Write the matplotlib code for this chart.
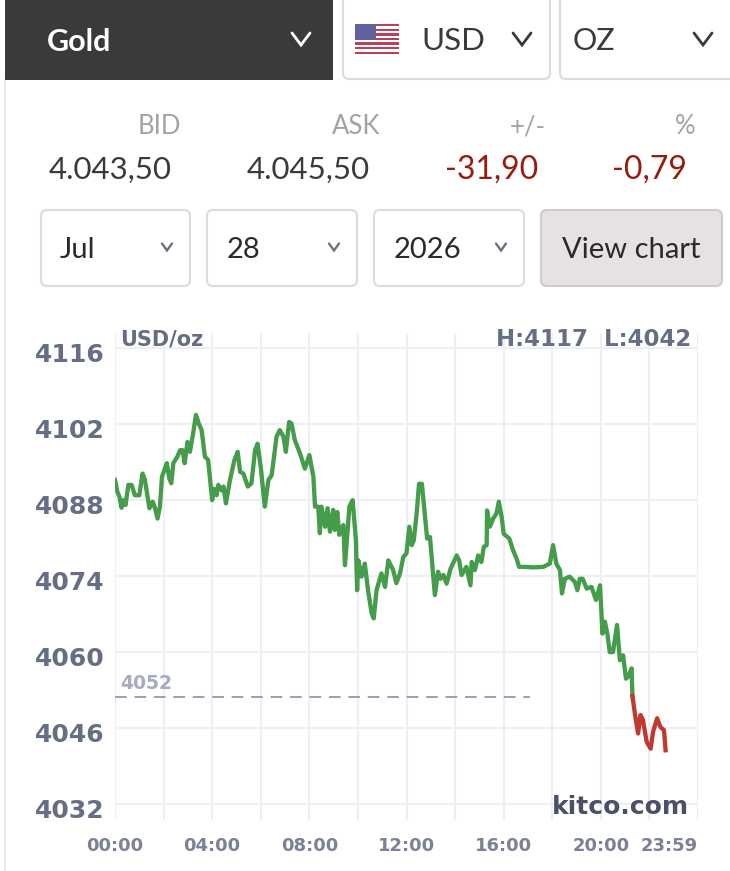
import numpy as np
import matplotlib
matplotlib.use("Agg")
import matplotlib.pyplot as plt
from matplotlib.patches import FancyBboxPatch, Rectangle
from matplotlib.transforms import ScaledTranslation

# ---- data ----
minutes = [0,6,11,16,21,26,33,41,49,60,68,74,85,93,99,105,111,116,128,134,139,144,154,161,167,172,179,185,193,200,207,214,222,230,240,244,251,255,263,268,274,284,295,303,309,317,328,337,346,352,360,370,379,387,399,407,416,422,430,436,444,457,469,480,490,494,502,506,510,519,525,531,539,543,549,554,564,568,579,587,595,598,601,609,617,625,634,639,646,658,667,675,687,695,704,712,720,727,733,738,745,751,758,765,771,778,786,790,798,804,811,819,829,844,850,856,868,878,881,889,897,905,911,918,919,926,934,942,948,955,960,974,983,992,998,1012,1033,1058,1074,1082,1090,1099,1104,1111,1123,1136,1142,1148,1155,1165,1177,1188,1198,1204,1210,1216,1222,1230,1240,1247,1255,1262,1267,1276,1278,1284,1292,1298,1304,1313,1323,1329,1339,1347,1356,1360]
prices = [4091.7,4089.5,4088.6,4086.6,4088.0,4087.1,4090.8,4090.8,4088.9,4088.9,4092.9,4091.7,4086.5,4087.7,4086.5,4084.6,4086.8,4092.3,4094.8,4092.0,4091.1,4094.8,4096.0,4097.2,4097.2,4094.8,4098.7,4096.9,4100.3,4103.7,4102.1,4100.9,4096.0,4095.4,4088.0,4090.1,4088.9,4090.8,4089.8,4090.5,4087.4,4091.7,4095.4,4096.9,4093.2,4092.9,4090.5,4091.1,4097.2,4098.4,4094.1,4086.8,4091.7,4092.6,4099.7,4100.9,4099.7,4096.9,4102.4,4102.1,4099.1,4096.6,4093.8,4096.3,4092.3,4086.8,4086.8,4081.9,4086.8,4083.1,4086.5,4082.2,4086.2,4082.5,4085.8,4081.6,4083.4,4076.0,4086.8,4088.0,4080.6,4071.4,4076.9,4073.9,4076.3,4071.4,4067.1,4066.2,4071.4,4074.5,4072.0,4076.9,4075.1,4072.7,4074.5,4077.5,4078.2,4083.1,4079.7,4080.6,4085.5,4091.0,4091.0,4085.5,4080.9,4081.2,4073.9,4070.5,4074.8,4073.5,4074.2,4072.6,4075.4,4077.8,4076.9,4074.2,4075.7,4072.3,4076.6,4075.1,4077.8,4076.6,4079.4,4079.7,4086.1,4083.1,4084.6,4085.5,4087.7,4084.9,4081.8,4080.9,4078.8,4077.2,4075.7,4075.7,4075.6,4075.7,4076.3,4079.7,4076.3,4075.1,4070.8,4073.5,4073.9,4072.9,4071.4,4073.5,4073.5,4071.7,4072.0,4069.6,4072.3,4063.4,4065.6,4063.4,4060.0,4060.0,4065.0,4058.5,4059.4,4055.1,4055.4,4057.0,4051.9,4048.7,4045.0,4048.4,4047.5,4043.5,4042.2,4045.3,4047.8,4046.2,4045.6,4041.9]
open_price = 4052
y_ticks = [4116,4102,4088,4074,4060,4046,4032]
x_tick_min = [0,240,480,720,960,1200,1439]
x_tick_lab = ["00:00","04:00","08:00","12:00","16:00","20:00","23:59"]
header_labels = ["BID","ASK","+/-","%"]
header_values = ["4.043,50","4.045,50","-31,90","-0,79"]

W, H = 730, 871
fig = plt.figure(figsize=(W/100, H/100), dpi=100, facecolor="white")
ui = fig.add_axes([0,0,1,1])
ui.set_xlim(0,W); ui.set_ylim(H,0); ui.axis("off")

UI = "Lato"
def box(x0,y0,x1,y1,fc="white",ec="#dcdcdc",r=6,lw=1.5):
    ui.add_patch(FancyBboxPatch((x0+r,y0+r),x1-x0-2*r,y1-y0-2*r,
        boxstyle=f"round,pad={r},rounding_size={r}",fc=fc,ec=ec,lw=lw,zorder=2))
def chev(cx,cy,w,h,c,lw):
    ui.plot([cx-w,cx,cx+w],[cy-h,cy+h,cy-h],color=c,lw=lw,zorder=4,solid_capstyle="round",solid_joinstyle="miter")

ui.plot([4.5,4.5],[80,871],color="#e4e4e4",lw=1.2)
ui.add_patch(Rectangle((5,-2),328,82,fc="#3a3a3a",ec="none",zorder=2))
box(343,-10,550,79); box(560,-10,740,79)
ui.text(47,42,"Gold",color="white",fontsize=22,fontweight="bold",family=UI,va="center",zorder=5)
chev(301,39,9,6,"white",2.0)
ui.text(421,41,"USD",color="#3a3a3a",fontsize=22.5,family=UI,va="center",zorder=5)
chev(522,39,9,6,"#3a3a3a",2.0)
ui.text(573,41,"OZ",color="#3a3a3a",fontsize=22,family=UI,va="center",zorder=5)
chev(703,39,9,6,"#3a3a3a",2.0)

# flag
for i in range(13):
    ui.add_patch(Rectangle((355,24+i*30/13),44,30/13,fc="#bb4058" if i%2==0 else "white",ec="none",zorder=3))
ui.add_patch(Rectangle((355,24),21,16,fc="#62629c",ec="none",zorder=4))

for x,t in zip([181,380,546,695],header_labels):
    ui.text(x,127,t,color="#a3a3a3",fontsize=18.5,family=UI,ha="right",va="center")
for x,t,c,fs in zip([172,370,538,687],header_values,["#3a3a3a","#3a3a3a","#981b10","#981b10"],[22.5,22.5,23,23]):
    ui.text(x,170,t,color=c,fontsize=fs,family=UI,ha="right",va="center")

box(41,210,190,286); box(207,210,357,286); box(374,210,524,286)
box(541,210,722,286,fc="#e6e2e2",ec="#cfcccc")
for x,t,cx in zip([60,227,394],["Jul","28","2026"],[167,334,501]):
    ui.text(x,250,t,color="#2a2a2a",fontsize=21,family=UI,va="center",zorder=5)
    chev(cx,247,5,3.5,"#6b7280",1.7)
ui.text(631.5,250,"View chart",color="#2a2a2a",fontsize=21,family=UI,ha="center",va="center",zorder=5)

# ---- chart ----
x0,x1,y_top,y_bot = 115,697.6,333,820
ax = fig.add_axes([x0/W,1-y_bot/H,(x1-x0)/W,(y_bot-y_top)/H])
ax.patch.set_alpha(0)
ax.set_xlim(0,1439)
ax.set_ylim(4029.05,4118.8)
for s in ax.spines.values(): s.set_visible(False)
grid = "#eeeef5"
ax.set_yticks(y_ticks)
ax.set_yticklabels([str(v) for v in y_ticks],fontsize=18,fontweight="bold",color="#666e85",family="DejaVu Sans")
ax.set_xticks(x_tick_min)
ax.set_xticklabels(x_tick_lab,fontsize=13,fontweight="bold",color="#7b8196",family="DejaVu Sans")
ax.set_xticks(np.arange(0,1440,120),minor=True)
ax.tick_params(axis="both",which="both",length=0)
ax.tick_params(axis="y",pad=7.5)
ax.tick_params(axis="x",pad=12)
ax.grid(True,axis="y",color=grid,lw=1.5)
ax.grid(True,axis="x",which="both",color=grid,lw=1.5)
ax.set_axisbelow(True)
for lab in ax.get_yticklabels():
    lab.set_transform(lab.get_transform()+ScaledTranslation(0,-4.5/72*0.72,fig.dpi_scale_trans))
ax.get_xticklabels()[-1].set_ha("right")

m = np.array(minutes,float); p = np.array(prices,float)
k = int(np.argmax(p < open_price))
ax.plot(m[:k+1],p[:k+1],color="#459c4a",lw=3.1,solid_joinstyle="round",zorder=3)
ax.plot(m[k:],p[k:],color="#c0392f",lw=3.1,solid_joinstyle="round",zorder=3)
ax.plot([0,1025],[open_price-0.2,open_price-0.2],color="#9a9fb5",lw=1.4,dashes=(6,4),zorder=2)

ui2 = fig.add_axes([0,0,1,1]); ui2.set_xlim(0,W); ui2.set_ylim(H,0); ui2.axis("off"); ui2.patch.set_alpha(0)
ui2.text(120,683,str(open_price),color="#a6abbf",fontsize=13.5,fontweight="bold",va="center",ha="left")
ui2.text(120,339,"USD/oz",color="#666e85",fontsize=15,fontweight="bold",va="center")
ui2.text(691,339,"H:4117  L:4042",color="#666e85",fontsize=16.5,fontweight="bold",va="center",ha="right")
ui2.text(689,807,"kitco.com",color="#4a5068",fontsize=18,fontweight="bold",va="center",ha="right")

fig.savefig("out.png",dpi=100)
